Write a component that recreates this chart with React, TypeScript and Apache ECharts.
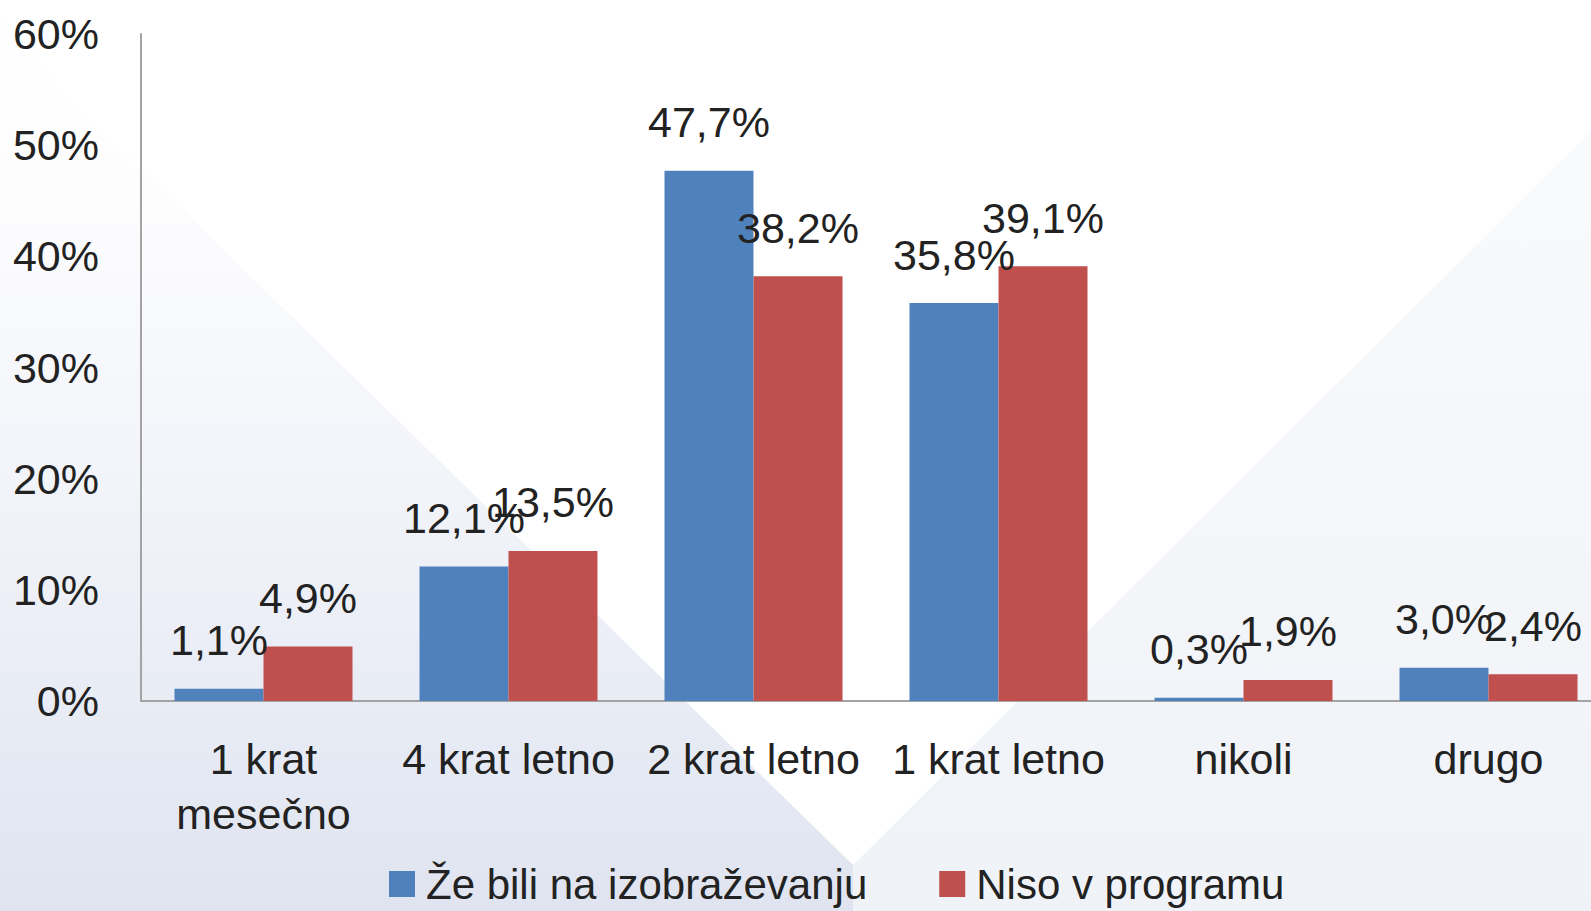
import React, { useEffect, useRef } from "react";
import * as echarts from "echarts";

const categories = ["1 krat\nmesečno", "4 krat letno", "2 krat letno", "1 krat letno", "nikoli", "drugo"];
const seriesNames = ["Že bili na izobraževanju", "Niso v programu"];
const attended = [1.1, 12.1, 47.7, 35.8, 0.3, 3.0];
const notInProgram = [4.9, 13.5, 38.2, 39.1, 1.9, 2.4];
const colors = ["#4F81BD", "#C0504D"];

const FONT = "'Liberation Sans', Arial, sans-serif";
const TEXT = "#222222";
const CHART_W = 1612;

export default function App() {
  const ref = useRef<HTMLDivElement>(null);
  useEffect(() => {
    if (!ref.current) return;
    const chart = echarts.init(ref.current, undefined, { renderer: "svg" });
    const fmt = (p: any) => Number(p.value).toFixed(1).replace(".", ",") + "%";
    const label = {
      show: true,
      position: "top" as const,
      distance: 27,
      formatter: fmt,
      fontFamily: FONT,
      fontSize: 43,
      lineHeight: 43,
      color: TEXT,
    };
    chart.setOption({
      animation: false,
      backgroundColor: "#ffffff",
      graphic: [
        {
          type: "polygon",
          z: -10,
          silent: true,
          shape: { points: [[0, 0], [60, 90], [853, 865], [853, 911], [0, 911]] },
          style: {
            fill: {
              type: "linear", x: 0, y: 0, x2: 0, y2: 911, global: true,
              colorStops: [
                { offset: 0, color: "#ffffff" },
                { offset: 0.2, color: "#fdfdfe" },
                { offset: 0.5, color: "#f3f5fa" },
                { offset: 1, color: "#dfe4f0" },
              ],
            },
          },
        },
        {
          type: "polygon",
          z: -10,
          silent: true,
          shape: { points: [[853, 865], [1612, 110], [1612, 911], [853, 911]] },
          style: {
            fill: {
              type: "linear", x: 0, y: 130, x2: 0, y2: 911, global: true,
              colorStops: [
                { offset: 0, color: "#f9fafc" },
                { offset: 1, color: "#eff2f7" },
              ],
            },
          },
        },
      ],
      grid: { left: 141, top: 34, width: 1470, height: 667, containLabel: false },
      legend: {
        left: 384,
        top: 858,
        itemWidth: 26,
        itemHeight: 26,
        itemGap: 72,
        icon: "rect",
        data: seriesNames,
        textStyle: { fontFamily: FONT, fontSize: 42, color: TEXT, padding: [0, 0, 0, 6] },
      },
      xAxis: {
        type: "category",
        data: categories,
        axisLine: { show: true, lineStyle: { color: "#a3a3a3", width: 2 } },
        axisTick: { show: false },
        axisLabel: {
          interval: 0,
          margin: 30,
          fontFamily: FONT,
          fontSize: 43,
          lineHeight: 55,
          color: TEXT,
        },
      },
      yAxis: {
        type: "value",
        min: 0,
        max: 60,
        interval: 10,
        axisLine: { show: true, lineStyle: { color: "#a3a3a3", width: 2 } },
        axisTick: { show: false },
        splitLine: { show: false },
        axisLabel: {
          formatter: "{value}%",
          margin: 42,
          fontFamily: FONT,
          fontSize: 43,
          color: TEXT,
        },
      },
      series: [
        {
          name: seriesNames[0],
          type: "bar",
          data: attended,
          barWidth: 89,
          barGap: "0%",
          itemStyle: { color: colors[0] },
          label,
        },
        {
          name: seriesNames[1],
          type: "bar",
          data: notInProgram,
          barWidth: 89,
          barGap: "0%",
          itemStyle: { color: colors[1] },
          label,
        },
      ],
    });
    return () => chart.dispose();
  }, []);
  return (
    <div style={{ position: "fixed", left: 0, top: 0, width: 1591, height: 911, overflow: "hidden" }}>
      <div ref={ref} style={{ width: CHART_W, height: 911 }} />
    </div>
  );
}
